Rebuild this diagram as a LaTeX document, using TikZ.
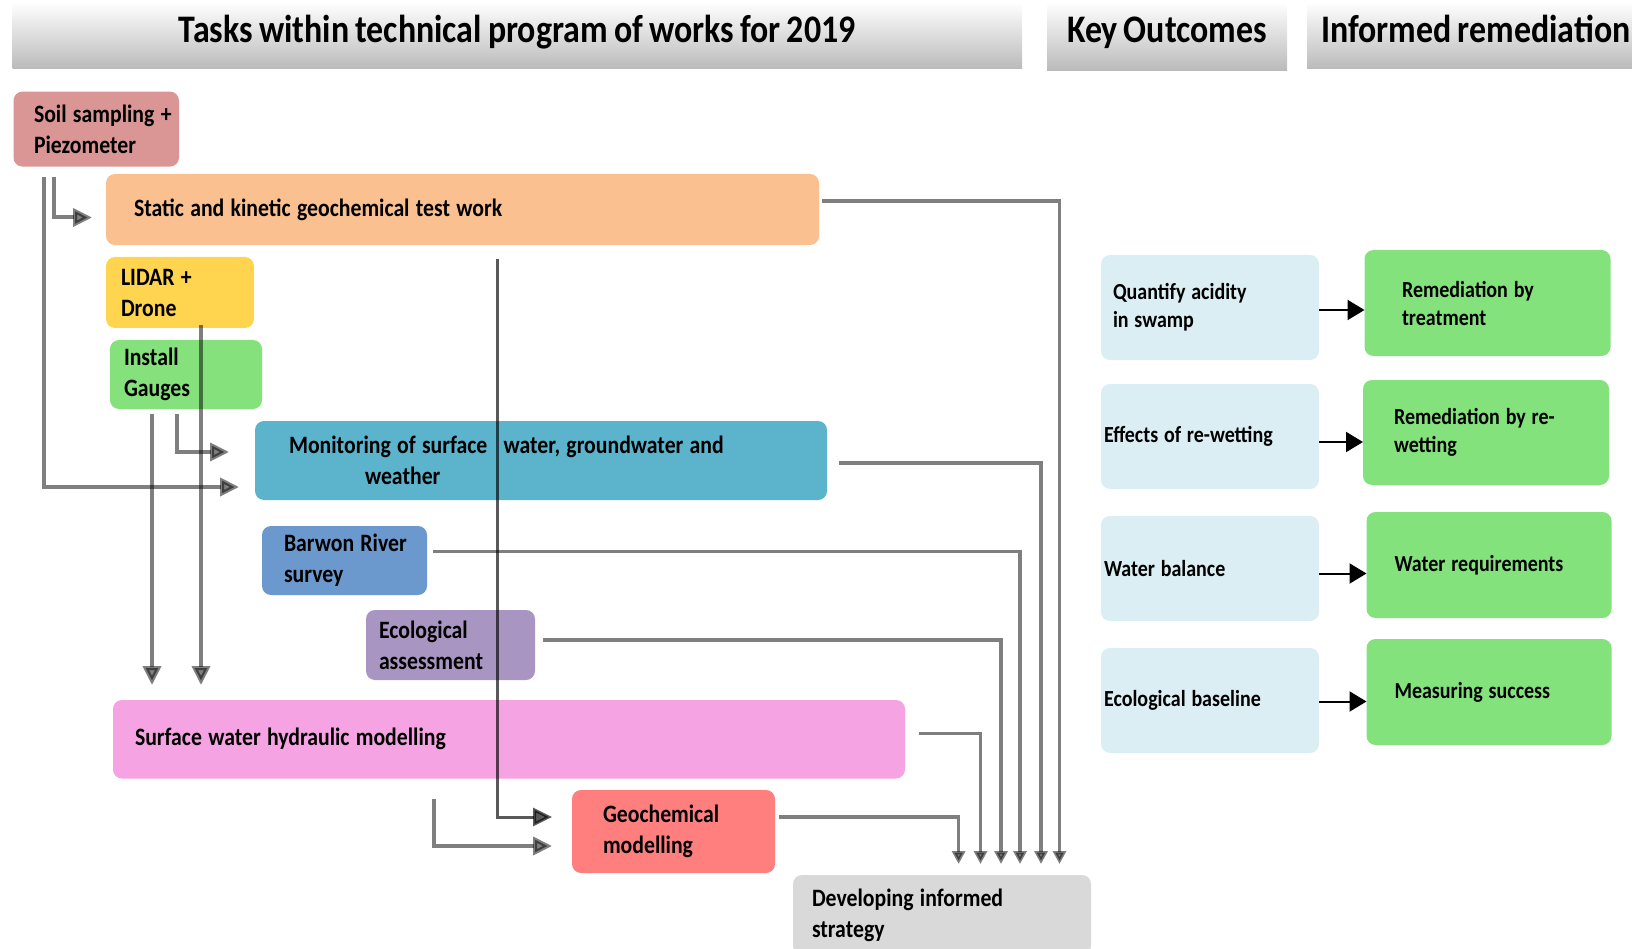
\documentclass[tikz,border=0pt]{standalone}
\usepackage{fontspec}
\setmainfont{Carlito}[FakeStretch=0.87,WordSpace=0.8]
\usetikzlibrary{arrows.meta}

\definecolor{soilc}{HTML}{D99694}
\definecolor{statc}{HTML}{FAC090}
\definecolor{lidarc}{HTML}{FFD44F}
\definecolor{gaugec}{HTML}{84E17B}
\definecolor{monc}{HTML}{5BB3CC}
\definecolor{barwonc}{HTML}{6B98CD}
\definecolor{ecoc}{HTML}{A895C1}
\definecolor{surfc}{HTML}{F5A3E2}
\definecolor{geoc}{HTML}{FF7F7F}
\definecolor{devc}{HTML}{D9D9D9}
\definecolor{keyc}{HTML}{DAEEF3}
\definecolor{remc}{HTML}{84E27D}

\begin{document}
\begin{tikzpicture}[x=1pt,y=-1pt,
  hdr/.style={anchor=north west,outer sep=0pt,inner sep=0pt,text depth=14pt,top color=white,bottom color=black!27,
    font=\fontsize{39}{47}\selectfont\bfseries},
  task/.style={anchor=north west,outer sep=0pt,inner xsep=0pt,rounded corners=9pt,align=left,
    font=\fontsize{25}{31}\selectfont\bfseries},
  outc/.style={task,font=\fontsize{23}{28}\selectfont\bfseries},
  pad/.style={execute at begin node={\leftskip=#1pt\relax\spaceskip=5.8pt\relax}},
  tpad/.style={execute at begin node={\leftskip=#1pt\relax\spaceskip=6.3pt\relax}},
  flow/.style={draw=black,opacity=0.5,line width=4pt,-{Triangle[width=18pt,length=19pt]}},
  feed/.style={draw=black,opacity=0.5,line width=3.5pt,-{Triangle[width=13pt,length=13pt]},shorten >=11pt},
  leads/.style={draw=black,line width=2pt,-{Triangle[width=20pt,length=17pt]}}]

\useasboundingbox (0,0) rectangle (1632,949);

% headings
\node[hdr,minimum width=1009.5pt,minimum height=67pt] (hdtask) at (12.5,2) {Tasks within technical program of works for 2019};
\node[hdr,minimum width=240pt,minimum height=69pt] (hdkey) at (1047,2) {Key Outcomes};
\node[hdr,minimum width=338pt,minimum height=67pt] (hdrem) at (1307,2) {Informed remediation};

% tasks
\node[task,fill=soilc,text width=165.5pt,minimum height=75pt,tpad=20.5] (soil) at (13.5,91.6) {Soil sampling +\\Piezometer};
\node[task,fill=statc,text width=713pt,minimum height=71pt,tpad=28] (stat) at (106,174) {Static and kinetic geochemical test work};
\node[task,fill=lidarc,text width=148pt,minimum height=71pt,tpad=15] (lidar) at (106,257) {LIDAR +\\Drone};
\node[task,fill=gaugec,text width=152pt,minimum height=69pt,tpad=14] (gauge) at (110,340) {Install\\Gauges};
\node[task,fill=monc,text width=572pt,minimum height=79pt,tpad=34] (mon) at (255,421) {Monitoring of surface\hspace{10pt} water, groundwater and\\\hspace*{76pt}weather};
\node[task,fill=barwonc,text width=165pt,minimum height=69pt,tpad=22] (barwon) at (262,526) {Barwon River\\survey};
\node[task,fill=ecoc,text width=169pt,minimum height=70pt,tpad=13] (eco) at (366,610) {Ecological\\assessment};
\node[task,fill=surfc,text width=792pt,minimum height=78.5pt,tpad=22] (surf) at (113,700) {Surface water hydraulic modelling};
\node[task,fill=geoc,text width=203pt,minimum height=83pt,tpad=31] (geo) at (572,790) {Geochemical\\modelling};
\node[task,fill=devc,text width=298pt,minimum height=80pt,tpad=19] (dev) at (793,875) {Developing informed\\strategy};

% key outcomes
\node[outc,fill=keyc,text width=218pt,minimum height=105pt,pad=12] (qacid) at (1101,255) {Quantify acidity\\in swamp};
\node[outc,fill=keyc,text width=218pt,minimum height=105pt,pad=3] (rewet) at (1101,384) {Effects of re-wetting};
\node[outc,fill=keyc,text width=218pt,minimum height=105pt,pad=3] (wbal) at (1101,516) {Water balance};
\node[outc,fill=keyc,text width=218pt,minimum height=105pt,pad=3] (ebase) at (1101,648) {Ecological baseline};

% remediation
\node[outc,fill=remc,text width=246pt,minimum height=106pt,pad=37.5] (rtreat) at (1364.5,250) {Remediation by\\treatment};
\node[outc,fill=remc,text width=246pt,minimum height=105pt,pad=31] (rrewet) at (1363,380) {Remediation by re-\\wetting};
\node[outc,fill=remc,text width=245pt,minimum height=106pt,pad=28] (wreq) at (1366.5,512) {Water requirements};
\node[outc,fill=remc,text width=245pt,minimum height=106pt,pad=28] (msucc) at (1366.5,639) {Measuring success};

% inputs between tasks
\draw[flow] ([xshift=30pt,yshift=-10pt]soil.south west) |- ([xshift=-16pt,yshift=13pt]mon.south west);
\draw[flow] ([xshift=40.5pt,yshift=-10pt]soil.south west) |- ([xshift=-14pt,yshift=-8pt]stat.west);
\draw[flow,shorten >=15pt] ([xshift=95pt,yshift=3pt]lidar.south west) coordinate (lidown) -- (lidown |- surf.north);
\draw[flow,shorten >=15pt] ([xshift=42pt,yshift=-5pt]gauge.south west) coordinate (gadown) -- (gadown |- surf.north);
\draw[flow] ([xshift=67pt,yshift=-5pt]gauge.south west) |- ([xshift=-26pt,yshift=-31pt]mon.north west);
\draw[flow,opacity=0.65,line width=3pt] ([xshift=391.5pt,yshift=-14pt]stat.south west) |- ([xshift=-20pt,yshift=-27pt]geo.north west);
\draw[flow] ([xshift=321pt,yshift=-20.5pt]surf.south west) |- ([xshift=-20pt,yshift=-56pt]geo.north west);

% into the strategy
\draw[feed] ([xshift=3pt,yshift=8.5pt]stat.east) -| ([xshift=266.5pt]dev.north west);
\draw[feed] ([xshift=12pt,yshift=-2.5pt]mon.east) -| ([xshift=248pt]dev.north west);
\draw[feed] ([xshift=6pt,yshift=9pt]barwon.east) -| ([xshift=227pt]dev.north west);
\draw[feed] ([xshift=8pt,yshift=5pt]eco.east) -| ([xshift=208pt]dev.north west);
\draw[feed] ([xshift=14pt,yshift=6pt]surf.east) -| ([xshift=187.5pt]dev.north west);
\draw[feed] ([xshift=3.5pt,yshift=14.5pt]geo.east) -| ([xshift=165.6pt]dev.north west);

% outcomes to remediation
\draw[leads] ([yshift=-2.5pt]qacid.east) -- ([yshift=-2.5pt]qacid.east -| rtreat.west);
\draw[leads] ([yshift=-5.5pt]rewet.east) -- ([yshift=-5.5pt]rewet.east -| rrewet.west);
\draw[leads] ([yshift=-5pt]wbal.east) -- ([yshift=-5pt]wbal.east -| wreq.west);
\draw[leads] ([yshift=-1pt]ebase.east) -- ([yshift=-1pt]ebase.east -| msucc.west);

\end{tikzpicture}
\end{document}
